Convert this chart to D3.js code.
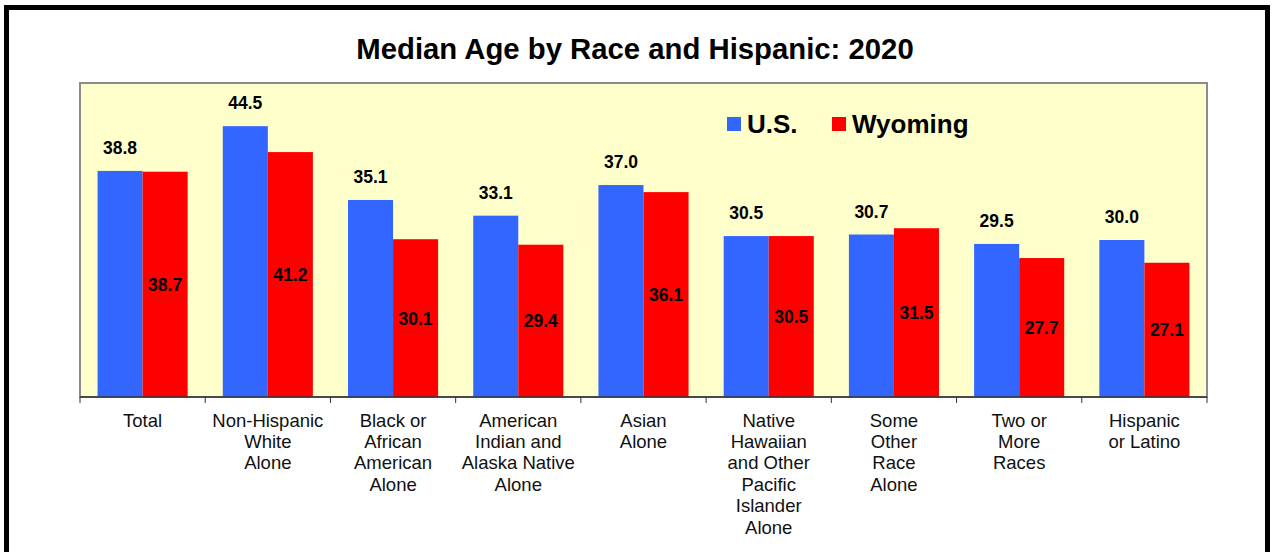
<!DOCTYPE html>
<html><head><meta charset="utf-8">
<script src="https://cdn.jsdelivr.net/npm/d3@7"></script>
<style>html,body{margin:0;padding:0;background:#fff;}svg{display:block;}</style>
</head><body>
<script>
const categories = [
  ["Total"],
  ["Non-Hispanic","White","Alone"],
  ["Black or","African","American","Alone"],
  ["American","Indian and","Alaska Native","Alone"],
  ["Asian","Alone"],
  ["Native","Hawaiian","and Other","Pacific","Islander","Alone"],
  ["Some","Other","Race","Alone"],
  ["Two or","More","Races"],
  ["Hispanic","or Latino"]
];
const usValues = [38.8, 44.5, 35.1, 33.1, 37.0, 30.5, 30.7, 29.5, 30.0];
const wyValues = [38.7, 41.2, 30.1, 29.4, 36.1, 30.5, 31.5, 27.7, 27.1];
const seriesNames = ["U.S.", "Wyoming"];
const yDomain = [10, 50];

const W = 1272, H = 552;
const svg = d3.select("body").append("svg").attr("width", W).attr("height", H);
const font = "'Liberation Sans', Arial, sans-serif";

// outer frame
svg.append("rect").attr("x", 6.5).attr("y", 7.5).attr("width", 1261).attr("height", 560)
  .attr("fill", "#fff").attr("stroke", "#000").attr("stroke-width", 5);

// title
svg.append("text").attr("x", 635).attr("y", 59).attr("text-anchor", "middle")
  .attr("font-family", font).attr("font-weight", "bold").attr("font-size", 29.3)
  .attr("fill", "#000").text("Median Age by Race and Hispanic: 2020");

const plot = {x0: 80, x1: 1207, y0: 83, y1: 397};
const idx = d3.range(categories.length);
const x = d3.scaleBand().domain(idx).range([plot.x0, plot.x1]).paddingInner(0).paddingOuter(0);
const y = d3.scaleLinear().domain(yDomain).range([plot.y1, plot.y0]);

svg.append("rect").attr("x", plot.x0).attr("y", plot.y0)
  .attr("width", plot.x1 - plot.x0).attr("height", plot.y1 - plot.y0)
  .attr("fill", "#FFFFCC").attr("stroke", "#8c8c8c").attr("stroke-width", 2);

const inner = d3.scaleBand().domain([0, 1]).range([0, x.bandwidth()]).paddingInner(0).paddingOuter(0.39);
const colors = ["#3366FF", "#FF0000"];
const series = [usValues, wyValues];

series.forEach((vals, s) => {
  svg.append("g").selectAll("rect").data(vals).join("rect")
    .attr("x", (d, i) => x(i) + inner(s))
    .attr("width", inner.bandwidth())
    .attr("y", d => y(d))
    .attr("height", d => y(yDomain[0]) - y(d))
    .attr("fill", colors[s]);
});

// axis
const axisG = svg.append("g").attr("transform", `translate(0,${plot.y1})`);
axisG.append("line").attr("x1", plot.x0).attr("x2", plot.x1).attr("y1", 0).attr("y2", 0)
  .attr("stroke", "#333").attr("stroke-width", 1.5);
axisG.selectAll("line.tick").data(d3.range(categories.length + 1)).join("line")
  .attr("class", "tick")
  .attr("x1", i => plot.x0 + i * x.step()).attr("x2", i => plot.x0 + i * x.step())
  .attr("y1", 0).attr("y2", 6).attr("stroke", "#333").attr("stroke-width", 1);

const labG = svg.append("g");
categories.forEach((lines, i) => {
  const t = labG.append("text").attr("text-anchor", "middle")
    .attr("font-family", font).attr("font-size", 18.5).attr("fill", "#111");
  lines.forEach((ln, j) => {
    t.append("tspan").attr("x", x(i) + x.bandwidth() / 2).attr("y", 426.5 + j * 21.4).text(ln);
  });
});

// value labels
svg.append("g").selectAll("text").data(usValues).join("text")
  .attr("x", (d, i) => x(i) + inner(0) + inner.bandwidth() / 2)
  .attr("y", d => y(d) - 17)
  .attr("text-anchor", "middle").attr("font-family", font).attr("font-weight", "bold")
  .attr("font-size", 17.5).attr("fill", "#000").text(d => d.toFixed(1));

svg.append("g").selectAll("text").data(wyValues).join("text")
  .attr("x", (d, i) => x(i) + inner(1) + inner.bandwidth() / 2)
  .attr("y", d => (y(d) + y(yDomain[0])) / 2 + 6.5)
  .attr("text-anchor", "middle").attr("font-family", font).attr("font-weight", "bold")
  .attr("font-size", 17.5).attr("fill", "#000").text(d => d.toFixed(1));

// legend
const leg = svg.append("g");
const legX = [727, 832];
seriesNames.forEach((n, s) => {
  leg.append("rect").attr("x", legX[s]).attr("y", 117).attr("width", 14).attr("height", 14).attr("fill", colors[s]);
  leg.append("text").attr("x", legX[s] + 20).attr("y", 133)
    .attr("font-family", font).attr("font-weight", "bold").attr("font-size", 26)
    .attr("fill", "#000").text(n);
});
</script>
</body></html>
